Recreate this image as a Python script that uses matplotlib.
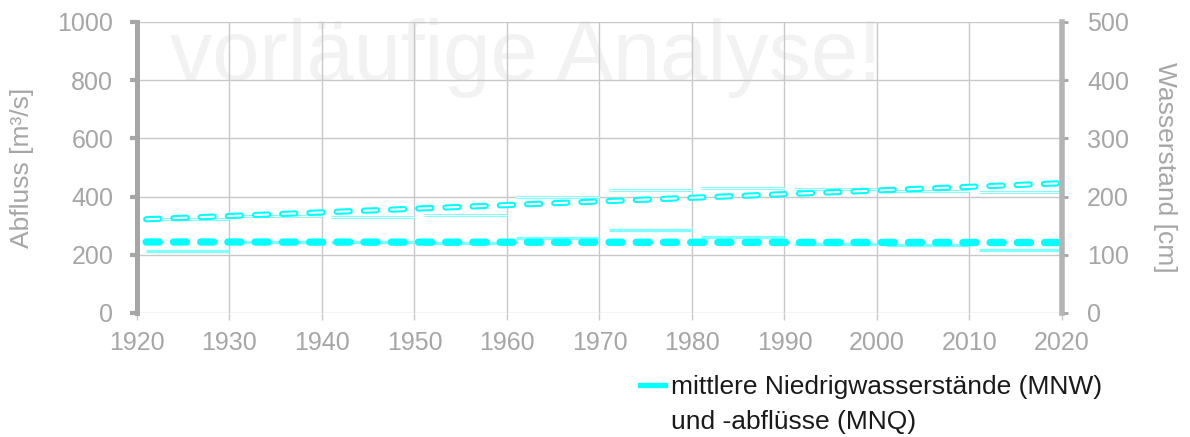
import numpy as np
import matplotlib.pyplot as plt
from matplotlib.lines import Line2D

plt.rcParams['font.family'] = ['Liberation Sans', 'DejaVu Sans']
plt.rcParams['lines.scale_dashes'] = False

# Dekaden
dec_start = [1921, 1931, 1941, 1951, 1961, 1971, 1981, 1991, 2001, 2011]
dec_end = [1930, 1940, 1950, 1960, 1970, 1980, 1990, 2000, 2010, 2020]
# MNQ je Dekade [m³/s] (linke Achse)
mnq_dec = [214, 243, 243, 241, 257, 285, 260, 237, 234, 215]
# MNW je Dekade [cm] (rechte Achse)
mnw_dec = [161, 167, 164.5, 168, 200, 211, 215, 213, 210, 207.5]
# Trends
trend_years = [1921, 2020]
mnq_trend = [244, 242]
mnw_trend = [161, 223]

xticks = list(range(1920, 2021, 10))
grey = '#a6a6a6'
cyan = '#00ffff'
light = '#80ffff'
fs = 18

fig = plt.figure(figsize=(11.9, 4.37), dpi=100)
ax = fig.add_axes([0.1151, 0.2838, 0.7773, 0.6659])
ax2 = ax.twinx()

ax.set_xlim(1920, 2020)
ax.set_ylim(0, 1000)
ax2.set_ylim(0, 500)

# Wasserzeichen
ax.text(0.42, 0.80, 'vorläufige Analyse!', transform=ax.transAxes, ha='center',
        va='baseline', fontsize=61, color='#f2f2f2', zorder=0)

ax.set_xticks(xticks)
ax.set_yticks(range(0, 1001, 200))
ax2.set_yticks(range(0, 501, 100))
ax.grid(True, color='#c8c8c8', lw=1)
ax.set_axisbelow(True)

# Dekadenwerte
for s, e, q in zip(dec_start, dec_end, mnq_dec):
    ax.plot([s, e], [q, q], color=light, lw=2.4, solid_capstyle='butt', zorder=2)
for s, e, w in zip(dec_start, dec_end, mnw_dec):
    ax2.plot([s, e], [w, w], color=light, lw=2.2, solid_capstyle='butt', zorder=2)
    ax2.plot([s, e], [w, w], color='white', lw=0.7, solid_capstyle='butt', zorder=2)

# Trendlinien
ax.plot(trend_years, mnq_trend, color=cyan, lw=5.3, dashes=(9.4, 10.2),
        dash_capstyle='round', zorder=3)
ax2.plot(trend_years, mnw_trend, color=cyan, lw=4.5, dashes=(9.4, 10.2),
         dash_capstyle='round', zorder=3)
ax2.plot(trend_years, mnw_trend, color='white', lw=1.5, dashes=(9.4, 10.2),
         dash_capstyle='round', zorder=3)

for a in (ax, ax2):
    for sp in a.spines.values():
        sp.set_visible(False)
ax.spines['left'].set_visible(True)
ax.spines['left'].set_color(grey)
ax.spines['left'].set_linewidth(3.6)
ax2.spines['right'].set_visible(True)
ax2.spines['right'].set_color('#b4b4b4')
ax2.spines['right'].set_linewidth(4)

ax.tick_params(axis='y', length=5, width=3, color=grey, labelcolor=grey,
               labelsize=fs, pad=12)
ax.tick_params(axis='x', length=5, width=1, color='#c8c8c8', labelcolor=grey,
               labelsize=fs, pad=8)
ax2.tick_params(axis='y', length=4, width=2, color=grey, labelcolor=grey,
                labelsize=fs, pad=14)

ax.set_ylabel('Abfluss [m³/s]', color=grey, fontsize=19)
ax.yaxis.set_label_coords(-0.124, 0.5)
ax.yaxis.label.set_va('center')
ax2.set_ylabel('Wasserstand [cm]', color=grey, fontsize=19, rotation=270)
ax2.yaxis.set_label_coords(1.111, 0.5)
ax2.yaxis.label.set_va('center')

handles = [Line2D([], [], color=cyan, lw=3.8), Line2D([], [], color='none')]
labels = ['mittlere Niedrigwasserstände (MNW)', 'und -abflüsse (MNQ)']
fig.legend(handles, labels, loc='upper left', bbox_to_anchor=(0.538, 0.141),
           frameon=False, fontsize=19, handlelength=0.95, handletextpad=0.2,
           labelspacing=0.4, borderpad=0, borderaxespad=0, labelcolor='#1a1a1a')

fig.savefig('out.png', dpi=100)
